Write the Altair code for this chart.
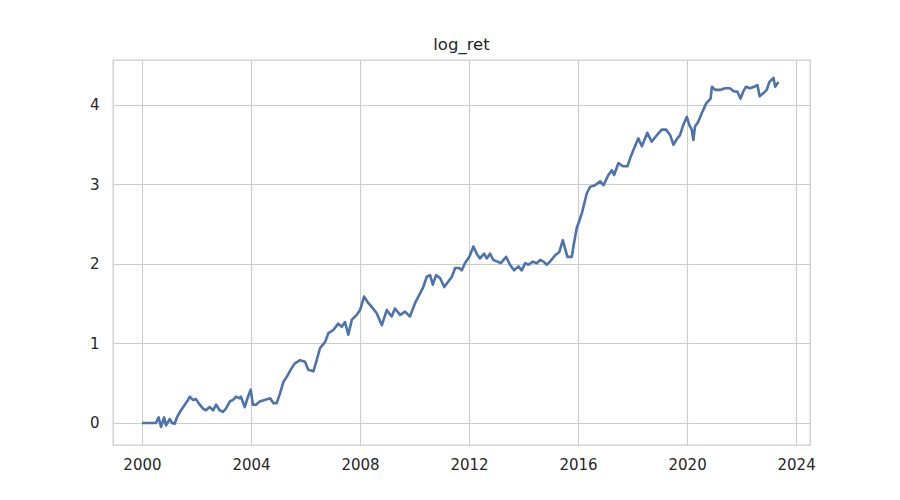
import altair as alt
import pandas as pd

# decimal years and log returns
years = [
    2000.00, 2000.51, 2000.61, 2000.70, 2000.81, 2000.88, 2001.02, 2001.10, 2001.20, 2001.28,
    2001.43, 2001.57, 2001.69, 2001.75, 2001.87, 2001.98, 2002.12, 2002.24, 2002.35, 2002.48,
    2002.61, 2002.72, 2002.85, 2002.97, 2003.08, 2003.22, 2003.34, 2003.45, 2003.59, 2003.63,
    2003.77, 2003.89, 2003.99, 2004.07, 2004.18, 2004.32, 2004.50, 2004.70, 2004.82, 2004.94,
    2005.06, 2005.19, 2005.31, 2005.49, 2005.61, 2005.80, 2005.98, 2006.10, 2006.29, 2006.41,
    2006.53, 2006.72, 2006.84, 2007.02, 2007.20, 2007.33, 2007.45, 2007.57, 2007.70, 2007.88,
    2008.00, 2008.15, 2008.30, 2008.43, 2008.61, 2008.80, 2008.98, 2009.16, 2009.28, 2009.47,
    2009.65, 2009.83, 2010.02, 2010.14, 2010.32, 2010.45, 2010.57, 2010.67, 2010.79, 2010.94,
    2011.09, 2011.24, 2011.37, 2011.49, 2011.64, 2011.73, 2011.85, 2012.01, 2012.16, 2012.28,
    2012.40, 2012.55, 2012.65, 2012.77, 2012.89, 2013.04, 2013.16, 2013.36, 2013.50, 2013.65,
    2013.81, 2013.93, 2014.06, 2014.18, 2014.34, 2014.48, 2014.61, 2014.73, 2014.85, 2014.97,
    2015.16, 2015.31, 2015.44, 2015.52, 2015.61, 2015.77, 2015.85, 2015.95, 2016.14, 2016.32,
    2016.44, 2016.62, 2016.81, 2016.93, 2017.11, 2017.24, 2017.32, 2017.48, 2017.64, 2017.81,
    2017.93, 2018.06, 2018.21, 2018.34, 2018.54, 2018.70, 2018.89, 2019.07, 2019.23, 2019.38,
    2019.50, 2019.64, 2019.74, 2019.86, 2019.99, 2020.08, 2020.17, 2020.23, 2020.29, 2020.41,
    2020.54, 2020.70, 2020.86, 2020.91, 2021.03, 2021.21, 2021.39, 2021.57, 2021.72, 2021.84,
    2021.96, 2022.06, 2022.16, 2022.31, 2022.46, 2022.58, 2022.66, 2022.80, 2022.92, 2023.02,
    2023.17, 2023.23, 2023.35,
]
log_ret = [
    0.00, 0.00, 0.07, -0.05, 0.07, -0.03, 0.05, 0.00, -0.01, 0.07,
    0.16, 0.23, 0.29, 0.33, 0.29, 0.30, 0.23, 0.18, 0.16, 0.20,
    0.16, 0.23, 0.16, 0.14, 0.18, 0.27, 0.29, 0.33, 0.31, 0.33,
    0.20, 0.33, 0.42, 0.23, 0.23, 0.27, 0.29, 0.31, 0.25, 0.25,
    0.37, 0.52, 0.58, 0.69, 0.75, 0.79, 0.77, 0.67, 0.65, 0.79,
    0.94, 1.02, 1.13, 1.17, 1.25, 1.21, 1.27, 1.11, 1.30, 1.36,
    1.42, 1.59, 1.51, 1.46, 1.38, 1.23, 1.42, 1.34, 1.44, 1.36,
    1.40, 1.34, 1.51, 1.59, 1.71, 1.84, 1.86, 1.74, 1.86, 1.82,
    1.71, 1.78, 1.84, 1.95, 1.95, 1.92, 2.01, 2.09, 2.22, 2.13,
    2.07, 2.13, 2.07, 2.13, 2.05, 2.03, 2.01, 2.09, 1.99, 1.92,
    1.97, 1.92, 2.01, 1.99, 2.03, 2.01, 2.05, 2.03, 1.99, 2.03,
    2.11, 2.15, 2.30, 2.20, 2.09, 2.09, 2.26, 2.45, 2.64, 2.89,
    2.97, 2.99, 3.04, 2.99, 3.12, 3.18, 3.12, 3.27, 3.23, 3.23,
    3.35, 3.46, 3.58, 3.48, 3.65, 3.54, 3.62, 3.69, 3.69, 3.62,
    3.50, 3.58, 3.62, 3.75, 3.85, 3.75, 3.69, 3.56, 3.73, 3.79,
    3.90, 4.02, 4.08, 4.23, 4.19, 4.19, 4.21, 4.21, 4.17, 4.17,
    4.08, 4.17, 4.23, 4.21, 4.23, 4.25, 4.11, 4.15, 4.19, 4.29,
    4.34, 4.23, 4.29,
]
x_ticks = [2000, 2004, 2008, 2012, 2016, 2020, 2024]
y_ticks = [0, 1, 2, 3, 4]


def to_stamp(y):
    base = pd.Timestamp(year=int(y), month=1, day=1)
    nxt = pd.Timestamp(year=int(y) + 1, month=1, day=1)
    return (base + (nxt - base) * (y - int(y))).strftime("%Y-%m-%dT%H:%M:%S")


df = pd.DataFrame({"date": [to_stamp(y) for y in years], "log_ret": log_ret})

font = "DejaVu Sans"

chart = (
    alt.Chart(df)
    .mark_line(color="#4c72b0", strokeWidth=2.6, strokeJoin="round")
    .encode(
        x=alt.X(
            "date:T",
            scale=alt.Scale(
                domain=[alt.DateTime(year=1998, month=12, date=9),
                        alt.DateTime(year=2024, month=7, date=5)],
                nice=False,
            ),
            axis=alt.Axis(
                title=None,
                values=[alt.DateTime(year=y) for y in x_ticks],
                format="%Y",
                labelPadding=12,
            ),
        ),
        y=alt.Y(
            "log_ret:Q",
            scale=alt.Scale(domain=[-0.277, 4.566], nice=False, zero=False),
            axis=alt.Axis(title=None, values=y_ticks, format="d", labelPadding=14),
        ),
    )
    .properties(
        width=697,
        height=385,
        title=alt.TitleParams(
            "log_ret", fontSize=16.5, font=font, fontWeight="normal",
            color="#262626", offset=7, anchor="middle",
        ),
        autosize=alt.AutoSizeParams(type="none"),
        padding={"left": 105, "top": 52, "right": 82, "bottom": 47},
    )
    .configure_axis(
        grid=True,
        gridColor="#cccccc",
        gridWidth=1.1,
        domain=False,
        ticks=False,
        labelFont=font,
        labelFontSize=15,
        labelColor="#262626",
    )
    .configure_view(stroke="#cccccc", strokeWidth=1.3)
)

chart.save("out.html", embed_options={"renderer": "svg", "actions": False})
